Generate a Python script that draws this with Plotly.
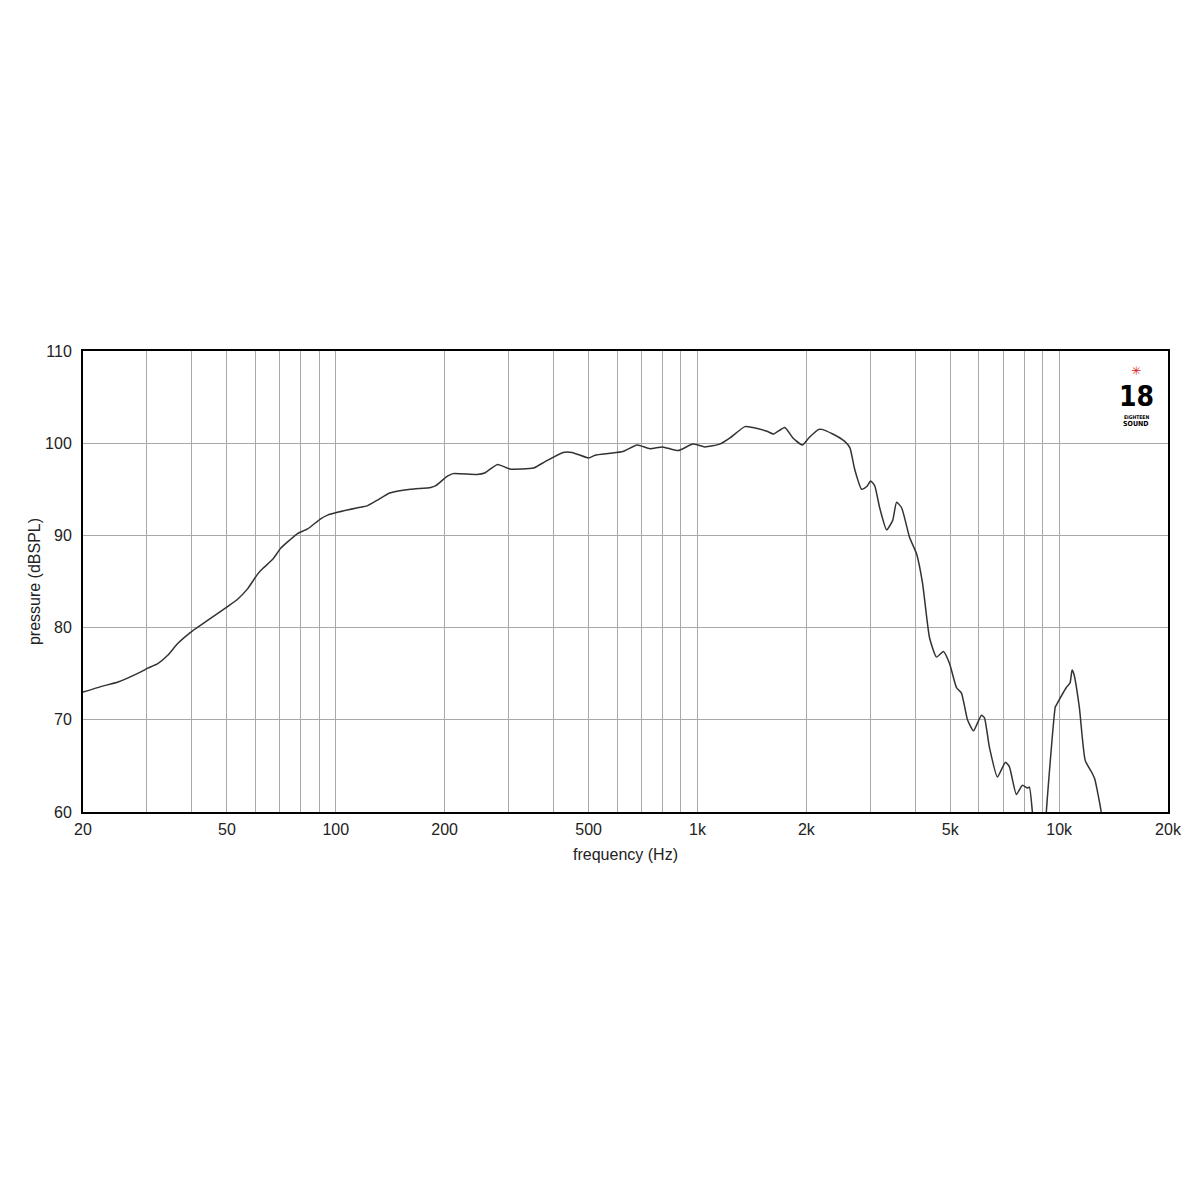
import plotly.graph_objects as go

# Frequency response (Hz, dBSPL)
freq_hz = [20, 22.4, 25.0, 28.9, 30.2, 32.2, 34.3, 36.6, 40, 44.3, 50.3, 53.6, 57.0, 60.8,
           62.8, 66.9, 70.4, 74.1, 78.4, 83.6, 90.8, 94.9, 101, 115, 122, 130, 141, 161,
           183, 189, 203, 211, 246, 259, 280, 303, 352, 379, 425, 450, 500, 521, 573,
           622, 681, 739, 800, 884, 972, 1048, 1153, 1233, 1352, 1424, 1556, 1624, 1743,
           1834, 1950, 2034, 2167, 2206, 2366, 2554, 2640, 2720, 2844, 2940, 3010, 3090,
           3190, 3334, 3464, 3553, 3668, 3858, 4034, 4192, 4382, 4580, 4788, 4977, 5202,
           5370, 5580, 5795, 6098, 6216, 6417, 6752, 7104, 7287, 7617, 7915, 8169, 8274,
           8433, 8600, 9050, 9217, 9760, 9822, 10466, 10720, 10860, 10980, 11370, 11806,
           12344, 12540, 13070, 13300]
spl_db = [73.0, 73.6, 74.1, 75.2, 75.6, 76.1, 77.0, 78.3, 79.6, 80.8, 82.3, 83.1, 84.2, 85.8,
          86.4, 87.4, 88.6, 89.4, 90.2, 90.7, 91.8, 92.2, 92.5, 93.0, 93.2, 93.8, 94.6, 95.0,
          95.2, 95.4, 96.4, 96.7, 96.6, 96.8, 97.7, 97.2, 97.3, 98.0, 99.0, 99.0, 98.4, 98.7, 98.9,
          99.1, 99.8, 99.4, 99.6, 99.2, 99.9, 99.6, 99.9, 100.6, 101.8, 101.7, 101.3, 101.0, 101.7,
          100.6, 99.8, 100.6, 101.5, 101.5, 101.0, 100.2, 99.5, 97.2, 95.0, 95.3, 95.9, 95.4,
          93.0, 90.6, 91.6, 93.6, 93.0, 89.8, 88.0, 84.8, 78.9, 76.8, 77.4, 76.1, 73.5,
          72.9, 70.0, 68.8, 70.5, 70.2, 67.0, 63.8, 65.4, 64.9, 61.9, 62.9, 62.6, 62.7,
          60.0, 54.0, 54.0, 60.0, 71.4, 71.6, 73.5, 74.0, 75.4, 75.0, 71.4, 65.6,
          64.2, 63.6, 60.0, 56.0]

major_ticks = [20, 50, 100, 200, 500, 1000, 2000, 5000, 10000, 20000]
major_labels = ["20", "50", "100", "200", "500", "1k", "2k", "5k", "10k", "20k"]
minor_grid = [30, 40, 60, 70, 80, 90, 300, 400, 600, 700, 800, 900,
              3000, 4000, 6000, 7000, 8000, 9000]

fig = go.Figure()
fig.add_trace(go.Scatter(x=freq_hz, y=spl_db, mode="lines",
                         line=dict(color="#333333", width=1.5, shape="spline", smoothing=0.5),
                         hoverinfo="x+y", showlegend=False))

font = dict(family="Liberation Sans, Arial, sans-serif", size=16, color="#222")

fig.update_layout(
    width=1200, height=1200,
    paper_bgcolor="white", plot_bgcolor="white",
    margin=dict(l=75, r=40, t=343, b=396),
    font=font,
    xaxis=dict(type="log", range=[1.30103, 4.30103],
               tickvals=major_ticks, ticktext=major_labels,
               showgrid=True, gridcolor="#a8a8a8", gridwidth=1,
               minor=dict(tickvals=minor_grid, showgrid=True, gridcolor="#a8a8a8", gridwidth=1,
                          ticks=""),
               ticks="", showline=True, linecolor="black", linewidth=2, mirror=True,
               zeroline=False, ticklabelstandoff=2,
               title=dict(text="frequency (Hz)", font=font, standoff=12)),
    yaxis=dict(range=[60, 110], dtick=10, tick0=60,
               showgrid=True, gridcolor="#a8a8a8", gridwidth=1,
               ticks="", showline=True, linecolor="black", linewidth=2, mirror=True,
               zeroline=False, ticklabelstandoff=6,
               title=dict(text="pressure (dBSPL)", font=font, standoff=0)),
)

# Logo: 18 Sound
logo_x = 0.9706
fig.add_annotation(xref="paper", yref="paper", x=logo_x, y=0.956, text="✳",
                   xanchor="center", yanchor="middle", showarrow=False,
                   font=dict(size=12, color="#e02020", family="DejaVu Sans"))
fig.add_annotation(xref="paper", yref="paper", x=logo_x, y=0.901, text="<b>18</b>",
                   xanchor="center", yanchor="middle", showarrow=False,
                   font=dict(size=28, color="black",
                             family="Liberation Sans Narrow, DejaVu Sans Condensed, sans-serif"))
fig.add_annotation(xref="paper", yref="paper", x=logo_x, y=0.856, text="<b>EIGHTEEN</b>",
                   xanchor="center", yanchor="middle", showarrow=False,
                   font=dict(size=5, color="black", family="DejaVu Sans Condensed, sans-serif"))
fig.add_annotation(xref="paper", yref="paper", x=logo_x, y=0.841, text="<b>SOUND</b>",
                   xanchor="center", yanchor="middle", showarrow=False,
                   font=dict(size=7, color="black", family="DejaVu Sans Condensed, sans-serif"))

fig.write_html("out.html")
